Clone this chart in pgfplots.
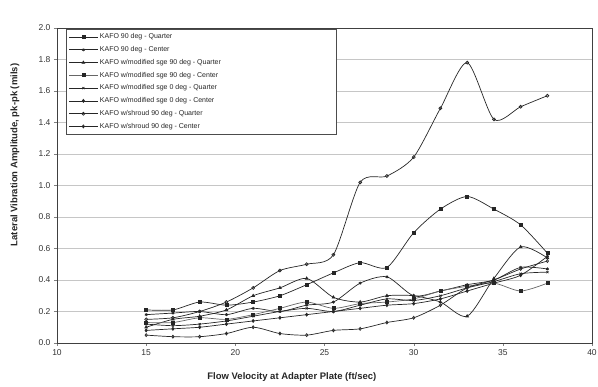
\documentclass[border=0pt]{standalone}
\usepackage{fontspec}
\setmainfont{Liberation Sans}
\usepackage{pgfplots}
\pgfplotsset{compat=1.18}
\pgfplotstableread{
x    s1   s2    s3   s4   s5   s6   s7   s8
15   0.15 0.21  0.10 0.05 0.18 0.13 0.12 0.08
16.5 0.16 0.21  0.15 0.04 0.19 0.13 0.11 0.09
18   0.20 0.26  0.17 0.04 0.20 0.16 0.12 0.10
19.5 0.26 0.24  0.21 0.06 0.18 0.15 0.14 0.12
21   0.35 0.26  0.30 0.10 0.22 0.18 0.17 0.14
22.5 0.46 0.30  0.35 0.06 0.20 0.22 0.20 0.16
24   0.50 0.37  0.41 0.05 0.24 0.26 0.22 0.18
25.5 0.56 0.445 0.29 0.08 0.26 0.22 0.20 0.20
27   1.02 0.51  0.26 0.09 0.38 0.25 0.24 0.22
28.5 1.06 0.48  0.30 0.13 0.42 0.26 0.28 0.24
30   1.18 0.70  0.30 0.16 0.30 0.28 0.27 0.25
31.5 1.49 0.85  0.26 0.24 0.33 0.33 0.30 0.28
33   1.78 0.93  0.17 0.35 0.37 0.36 0.35 0.33
34.5 1.42 0.85  0.41 0.40 0.40 0.38 0.39 0.38
36   1.50 0.75  0.61 0.47 0.48 0.33 0.44 0.43
37.5 1.57 0.57  0.54 0.52 0.47 0.38 0.45 0.55
}\data
\begin{document}
\begin{tikzpicture}
\useasboundingbox (-57pt,-44pt) rectangle (541pt,343pt);
\begin{axis}[
  at={(0,0)}, anchor=south west,
  scale only axis, width=535pt, height=315pt,
  xmin=10, xmax=40, ymin=0, ymax=2,
  xtick={10,15,20,25,30,35,40},
  ytick={0,0.2,0.4,0.6,0.8,1.0,1.2,1.4,1.6,1.8,2.0},
  yticklabel style={/pgf/number format/fixed, /pgf/number format/precision=1, /pgf/number format/fixed zerofill},
  /pgf/number format/assume math mode=true,
  tick label style={font=\fontsize{8.5}{10}\selectfont, text=black!80},
  ymajorgrids, grid style={gray!45, line width=0.6pt},
  tick align=outside, major tick length=3pt, tick pos=left,
  axis line style={black!75, line width=0.8pt},
  xlabel={Flow Velocity at Adapter Plate (ft/sec)},
  xlabel style={at={(rel axis cs:0.439,-0.108)}, anchor=center, font=\fontsize{9.5}{11}\selectfont\bfseries, text=black!85},
  ylabel={Lateral Vibration Amplitude, pk-pk (mils)},
  ylabel style={at={(rel axis cs:-0.0785,0.597)}, anchor=center, font=\fontsize{9.5}{11}\selectfont\bfseries, text=black!85},
  legend style={at={(rel axis cs:0.0168,0.997)}, anchor=north west, font=\fontsize{7}{8}\selectfont, draw=black!70, line width=0.6pt, row sep=2.2pt, inner sep=2.5pt, text=black!85},
  legend cell align=left,
  legend image code/.code={\draw[mark repeat=2,mark phase=2,#1] plot coordinates {(0cm,0cm) (0.5cm,0cm) (1cm,0cm)};},
  every axis plot/.append style={line width=0.7pt, black!85, mark size=1.5pt, smooth, tension=0.45},
]
\addplot[mark=square*] table[x=x,y=s2]{\data};
\addlegendentry{\makebox[232pt][l]{KAFO 90 deg - Quarter}}
\addplot[mark=asterisk] table[x=x,y=s5]{\data};
\addlegendentry{KAFO 90 deg - Center}
\addplot[mark=triangle*] table[x=x,y=s3]{\data};
\addlegendentry{KAFO w/modified sge 90 deg - Quarter}
\addplot[black!60, mark=square*, mark options={black!85}] table[x=x,y=s6]{\data};
\addlegendentry{KAFO w/modified sge 90 deg - Center}
\addplot[mark=x] table[x=x,y=s7]{\data};
\addlegendentry{KAFO w/modified sge 0 deg - Quarter}
\addplot[mark=diamond*] table[x=x,y=s8]{\data};
\addlegendentry{KAFO w/modified sge 0 deg - Center}
\addplot[mark=o, mark options={fill=white}] table[x=x,y=s1]{\data};
\addlegendentry{KAFO w/shroud 90 deg - Quarter}
\addplot[mark=diamond, mark options={fill=white}] table[x=x,y=s4]{\data};
\addlegendentry{KAFO w/shroud 90 deg - Center}
\end{axis}
\end{tikzpicture}
\end{document}
